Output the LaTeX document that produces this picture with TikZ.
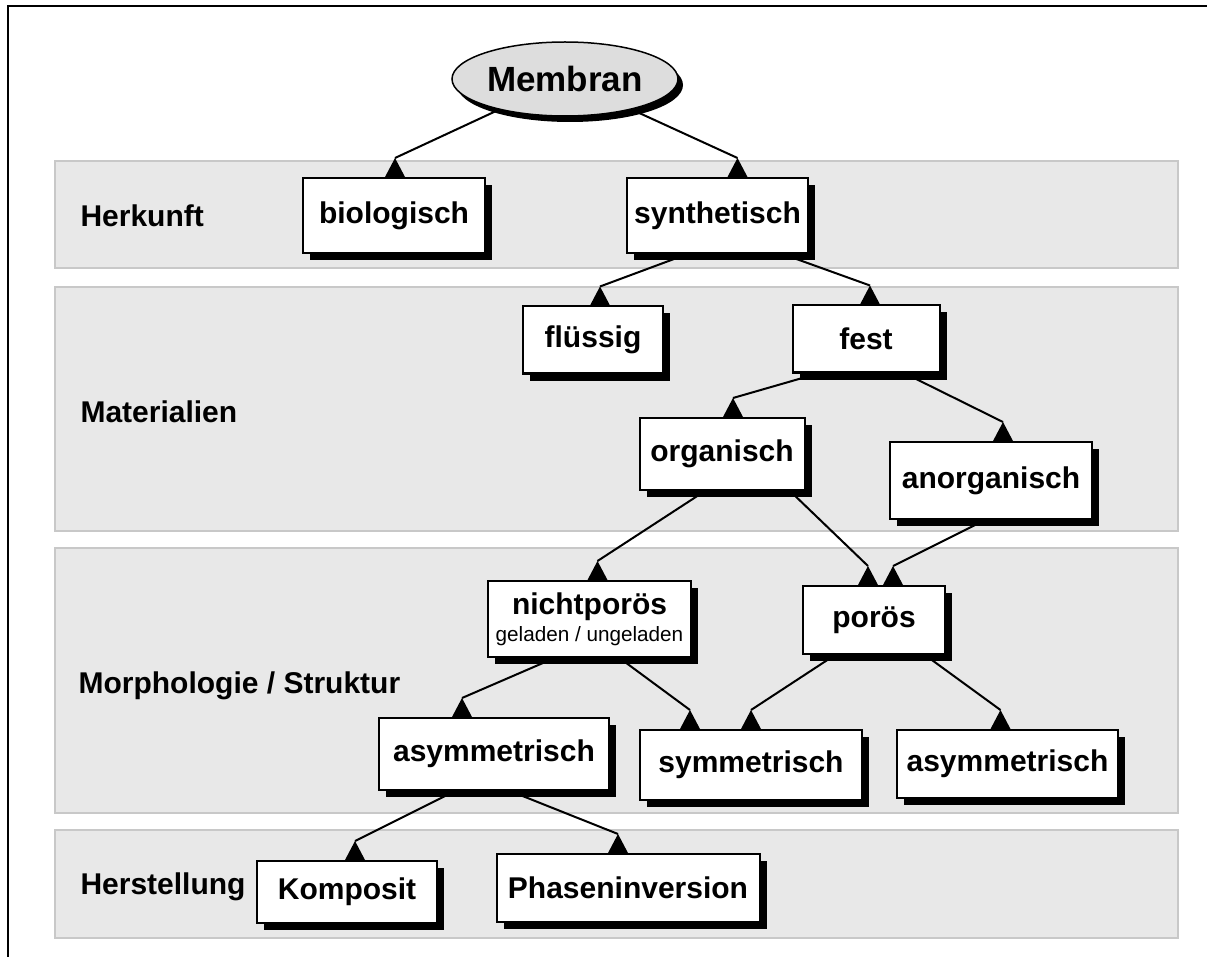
\documentclass[tikz,border=0pt]{standalone}
\usepackage{fontspec}
\setmainfont{Liberation Sans}
\usepackage{tikz}
\usetikzlibrary{shapes.geometric,shadows,backgrounds,calc}
\definecolor{bandgrau}{HTML}{E8E8E8}
\definecolor{bandrand}{HTML}{C8C8C8}
\definecolor{ellgrau}{HTML}{DDDDDD}
\tikzset{
  kasten/.style={draw=black,fill=white,line width=2pt,align=center,inner sep=0pt,font=\fontsize{30}{34}\selectfont\bfseries,drop shadow={shadow xshift=7pt,shadow yshift=-7pt,fill=black,opacity=1}},
  wurzel/.style={draw=black,ellipse,fill=ellgrau,line width=1.5pt,inner sep=0pt,font=\fontsize{35}{40}\selectfont\bfseries,drop shadow={shadow xshift=5pt,shadow yshift=-6pt,fill=black,opacity=1}},
  band/.style={draw=bandrand,fill=bandgrau,line width=1.5pt},
  ebene/.style={anchor=west,font=\fontsize{30}{34}\selectfont\bfseries},
  linie/.style={line width=2pt},
  rahmen/.style={line width=2.5pt},
}
% Verbindung mit aufrechter Spitze auf der Oberkante
\newcommand{\pfeil}[2]{%
  \path (#2) ++(0,19) coordinate (spitze);
  \draw[linie] (#1) -- (spitze);
  \fill (#2) +(-10,0) -- +(0,19) -- +(10,0) -- cycle;
}

\begin{document}
\begin{tikzpicture}[x=1pt,y=1pt]
  \useasboundingbox (0,0) rectangle (1207,-957);
  \draw[rahmen] (8,-957) -- (8,-6) -- (1207,-6);
  % Ebenen
  \begin{scope}[on background layer]
    \draw[band] (55,-161) rectangle (1178,-268);
    \draw[band] (55,-287) rectangle (1178,-531);
    \draw[band] (55,-548) rectangle (1178,-813);
    \draw[band] (55,-830) rectangle (1178,-938);
  \end{scope}
  \node[ebene] (herkunft) at (77,-216) {Herkunft};
  \node[ebene] (material) at (77,-412) {Materialien};
  \node[ebene] (morph) at (75,-686) {Morphologie / Struktur};
  \node[ebene] (herst) at (77,-887) {Herstellung};
  % Knoten
  \node[wurzel,minimum width=226pt,minimum height=74pt] (mem) at (565,-79) {Membran};
  \node[kasten,minimum width=182pt,minimum height=75pt] (bio) at (394,-215.5) {biologisch};
  \node[kasten,minimum width=181pt,minimum height=75pt] (syn) at (717.5,-215.5) {synthetisch};
  \node[kasten,minimum width=140pt,minimum height=67pt] (fl) at (593,-340) {flüssig};
  \node[kasten,minimum width=147pt,minimum height=67pt] (fest) at (866,-339) {fest};
  \node[kasten,minimum width=165pt,minimum height=72pt] (org) at (722,-454) {organisch};
  \node[kasten,minimum width=202pt,minimum height=77pt] (anorg) at (991,-480.5) {anorganisch};
  \node[kasten,minimum width=203pt,minimum height=76pt] (nicht) at (589.5,-619) {nichtporös\\[-7pt]{\fontsize{20.7}{24}\selectfont\mdseries geladen / ungeladen}};
  \node[kasten,minimum width=142pt,minimum height=68pt] (poros) at (874,-620) {porös};
  \node[kasten,minimum width=230pt,minimum height=72pt] (asyml) at (494,-754) {asymmetrisch};
  \node[kasten,minimum width=222pt,minimum height=70pt] (sym) at (751,-765) {symmetrisch};
  \node[kasten,minimum width=221pt,minimum height=68pt] (asymr) at (1007.5,-764) {asymmetrisch};
  \node[kasten,minimum width=180pt,minimum height=62pt] (komp) at (347,-892) {Komposit};
  \node[kasten,minimum width=263pt,minimum height=68pt] (phase) at (628,-888) {Phaseninversion};
  % Verbindungen
  \begin{scope}[on background layer]
    \pfeil{mem}{[xshift=1pt]bio.north}
    \pfeil{mem}{[xshift=20pt]syn.north}
    \pfeil{[xshift=-30pt]syn.south}{[xshift=7pt]fl.north}
    \pfeil{[xshift=65pt]syn.south}{[xshift=4pt]fest.north}
    \pfeil{[xshift=-48pt]fest.south}{[xshift=11pt]org.north}
    \pfeil{[xshift=39pt]fest.south}{[xshift=12pt]anorg.north}
    \pfeil{[xshift=-17pt]org.south}{[xshift=8pt]nicht.north}
    \pfeil{[xshift=68pt]org.south}{[xshift=-6pt]poros.north}
    \pfeil{[xshift=-6pt]anorg.south}{[xshift=19pt]poros.north}
    \pfeil{[xshift=-35pt]nicht.south}{[xshift=-32pt]asyml.north}
    \pfeil{[xshift=30pt]nicht.south}{[xshift=-61pt]sym.north}
    \pfeil{[xshift=-39pt]poros.south}{sym.north}
    \pfeil{[xshift=51pt]poros.south}{[xshift=-7pt]asymr.north}
    \pfeil{[xshift=-39pt]asyml.south}{[xshift=8pt]komp.north}
    \pfeil{[xshift=16pt]asyml.south}{[xshift=-10pt]phase.north}
  \end{scope}
\end{tikzpicture}
\end{document}
